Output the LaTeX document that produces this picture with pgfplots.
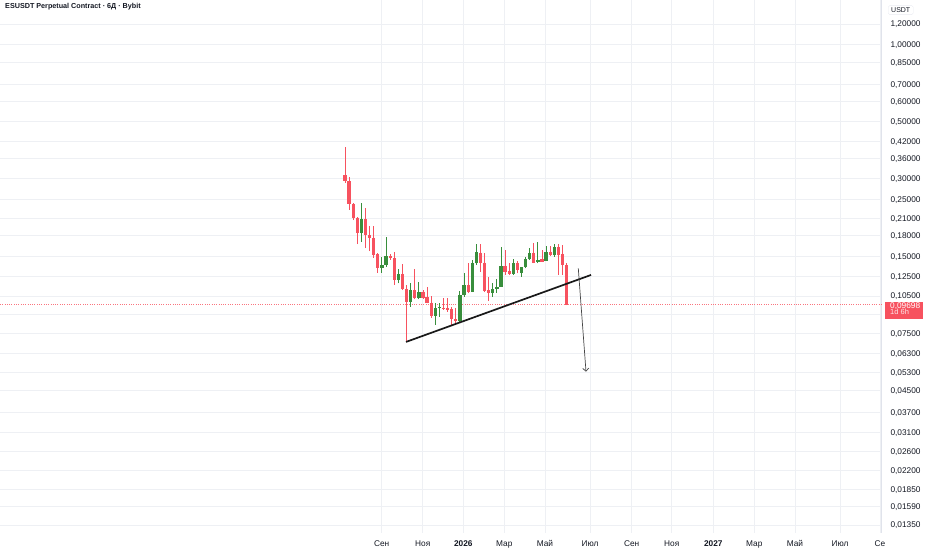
\documentclass[border=0pt]{standalone}
\usepackage{fontspec}
\setmainfont{Liberation Sans}
\usepackage{pgfplots}
\usepackage{pgfplotstable}
\pgfplotsset{compat=1.18}
\usetikzlibrary{arrows.meta}
\definecolor{upc}{RGB}{56,142,60}
\definecolor{dnc}{RGB}{247,82,95}
\definecolor{gridc}{RGB}{238,240,244}
\definecolor{txt}{RGB}{19,23,34}
\definecolor{sepc}{RGB}{224,227,235}
\definecolor{trendc}{RGB}{25,25,25}
\definecolor{arrowc}{RGB}{70,70,70}

\pgfplotstableread{
x o h l c
0 0.3103 0.4000 0.2890 0.2948
1 0.2941 0.3048 0.2269 0.2394
2 0.2394 0.2416 0.2074 0.2117
3 0.2117 0.2130 0.1673 0.1841
4 0.1846 0.2422 0.1708 0.2093
5 0.2093 0.2309 0.1614 0.1813
6 0.1813 0.1966 0.1571 0.1765
7 0.1770 0.1966 0.1476 0.1516
8 0.1530 0.1544 0.1291 0.1349
9 0.1349 0.1493 0.1294 0.1386
10 0.1386 0.1781 0.1366 0.1502
11 0.1502 0.1530 0.1450 0.1472
12 0.1472 0.1561 0.1160 0.1212
13 0.1212 0.1334 0.1177 0.1279
14 0.1279 0.1399 0.1108 0.1115
15 0.1115 0.1160 0.0697 0.0993
16 0.0993 0.1183 0.0954 0.1108
17 0.1108 0.1334 0.1020 0.1029
18 0.1029 0.1194 0.1020 0.1091
19 0.1091 0.1108 0.1022 0.1034
20 0.1038 0.1142 0.0984 0.0989
21 0.0989 0.1053 0.0865 0.0878
22 0.0878 0.0984 0.0810 0.0941
23 0.0941 0.0989 0.0872 0.0954
24 0.0946 0.1029 0.0927 0.0933
25 0.0941 0.1029 0.0912 0.0927
26 0.0933 0.0954 0.0810 0.0852
27 0.0852 0.0941 0.0827 0.0836
28 0.0837 0.1098 0.0827 0.1059
29 0.1059 0.1294 0.1043 0.1160
30 0.1160 0.1407 0.1076 0.1091
31 0.1091 0.1450 0.1088 0.1407
32 0.1407 0.1673 0.1386 0.1561
33 0.1548 0.1673 0.1306 0.1415
34 0.1415 0.1540 0.1088 0.1098
35 0.1108 0.1249 0.1007 0.1082
36 0.1082 0.1177 0.1043 0.1121
37 0.1121 0.1220 0.1079 0.1142
38 0.1142 0.1633 0.1139 0.1374
39 0.1374 0.1585 0.1268 0.1306
40 0.1318 0.1407 0.1268 0.1279
41 0.1279 0.1459 0.1268 0.1407
42 0.1407 0.1441 0.1287 0.1326
43 0.1294 0.1366 0.1249 0.1359
44 0.1359 0.1493 0.1346 0.1459
45 0.1459 0.1610 0.1450 0.1548
46 0.1548 0.1684 0.1407 0.1415
47 0.1428 0.1708 0.1407 0.1450
48 0.1459 0.1585 0.1424 0.1428
49 0.1441 0.1643 0.1437 0.1561
50 0.1561 0.1643 0.1502 0.1516
51 0.1516 0.1673 0.1493 0.1624
52 0.1624 0.1673 0.1268 0.1516
53 0.1530 0.1658 0.1268 0.1386
54 0.1386 0.1415 0.0965 0.09698
}\candles

\begin{document}
\begin{tikzpicture}
\path[use as bounding box] (0,-17pt) rectangle (932pt,533pt);
\begin{axis}[
  at={(0,0)}, anchor=south west,
  scale only axis, width=881pt, height=533pt,
  ymode=log,
  xmin=-84.04, xmax=130.57, ymin=0.01257, ymax=1.488,
  axis x line*=bottom, axis y line*=right,
  x axis line style={draw=none},
  y axis line style={draw=sepc, line width=0.8pt},
  major tick length=0pt, minor tick length=0pt,
  grid=major, major grid style={draw=gridc, line width=0.8pt},
  xtick={8.94,18.93,28.82,38.81,48.72,59.68,69.84,79.59,89.72,99.71,109.62,120.58,130.33},
  xticklabels={Сен,Ноя,\textbf{2026},Мар,Май,Июл,Сен,Ноя,\textbf{2027},Мар,Май,Июл,Се},
  ytick={1.2,1.0,0.85,0.7,0.6,0.5,0.42,0.36,0.30,0.25,0.21,0.18,0.15,0.125,0.105,0.089,0.075,0.063,0.053,0.045,0.037,0.031,0.026,0.022,0.0185,0.0159,0.0135},
  yticklabels={{1,20000},{1,00000},{0,85000},{0,70000},{0,60000},{0,50000},{0,42000},{0,36000},{0,30000},{0,25000},{0,21000},{0,18000},{0,15000},{0,12500},{0,10500},{},{0,07500},{0,06300},{0,05300},{0,04500},{0,03700},{0,03100},{0,02600},{0,02200},{0,01850},{0,01590},{0,01350}},
  ticklabel style={font=\fontsize{8.3}{9}\selectfont, text=txt},
  yticklabel style={anchor=west, xshift=6pt, text height=5.9pt, text depth=0pt},
  xticklabel style={anchor=north, yshift=-3.5pt, text height=6pt, text depth=0pt},
  clip=false,
]
\addplot[draw=dnc!80, line width=0.8pt, dash pattern=on 0.8pt off 1.5pt, forget plot]
  coordinates {(-84.04,0.09698) (130.57,0.09698)};
\pgfplotsinvokeforeach{0,...,54}{%
  \pgfplotstablegetelem{#1}{x}\of\candles\let\cx\pgfplotsretval
  \pgfplotstablegetelem{#1}{o}\of\candles\let\co\pgfplotsretval
  \pgfplotstablegetelem{#1}{h}\of\candles\let\ch\pgfplotsretval
  \pgfplotstablegetelem{#1}{l}\of\candles\let\cl\pgfplotsretval
  \pgfplotstablegetelem{#1}{c}\of\candles\let\cc\pgfplotsretval
  \ifdim\cc pt>\co pt \def\ccol{upc}\else\def\ccol{dnc}\fi
  \edef\doit{\noexpand\addplot[draw=\ccol, line width=0.9pt, forget plot] coordinates {(\cx,\cl) (\cx,\ch)};
    \noexpand\addplot[draw=\ccol, line width=3.3pt, line cap=butt, forget plot] coordinates {(\cx,\co) (\cx,\cc)};}%
  \doit
}
\addplot[draw=trendc, line width=1.7pt, forget plot] coordinates {(14.86,0.0696) (59.93,0.1268)};
\addplot[draw=arrowc, line width=0.7pt, -{Straight Barb[length=3pt,width=6pt]}, forget plot]
  coordinates {(56.83,0.1346) (58.71,0.0533)};

\node[anchor=west, inner sep=0, xshift=5pt, text=txt, font=\bfseries\fontsize{7.2}{8}\selectfont]
  at (rel axis cs:0,0.987) {ESUSDT Perpetual Contract · 6Д · Bybit};
\node[anchor=west, draw=sepc!70, rounded corners=1.5pt, inner xsep=3pt, inner ysep=2pt, xshift=7pt, text=txt, font=\fontsize{7}{8}\selectfont]
  at (rel axis cs:1,0.981) {USDT};
\node[fill=dnc, minimum width=38pt, minimum height=17pt, anchor=north west, inner sep=0, xshift=4pt, yshift=3.2pt]
  at (axis cs:130.57,0.09698) {};
\node[anchor=base west, inner sep=0, xshift=9pt, yshift=-3.5pt, text=white, font=\fontsize{8.3}{9}\selectfont]
  at (axis cs:130.57,0.09698) {0,09698};
\node[anchor=base west, inner sep=0, xshift=9pt, yshift=-10pt, text=white!85!dnc, font=\fontsize{7.5}{8}\selectfont]
  at (axis cs:130.57,0.09698) {1d 6h};
\end{axis}
\end{tikzpicture}
\end{document}
